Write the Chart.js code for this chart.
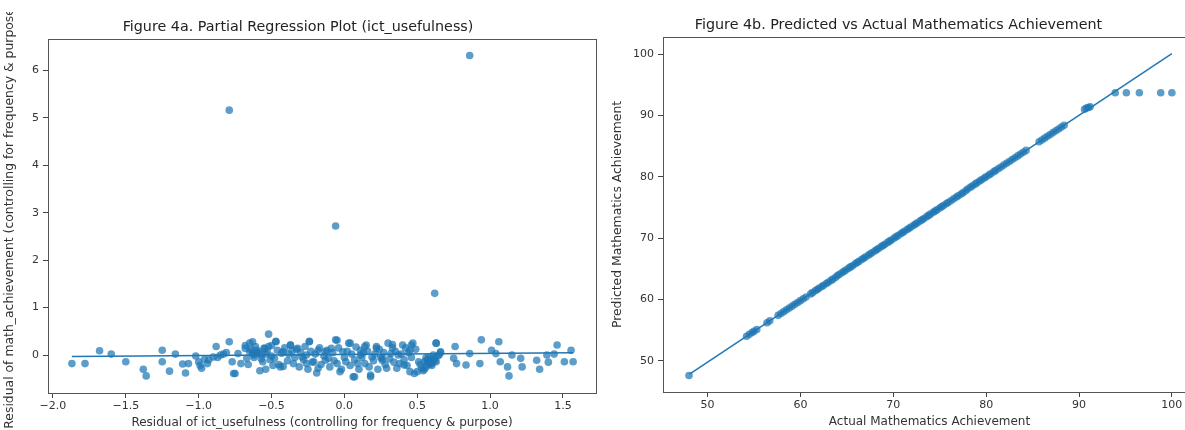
<!DOCTYPE html>
<html>
<head>
<meta charset="utf-8">
<script src="https://cdn.jsdelivr.net/npm/chart.js@4.4.1/dist/chart.umd.min.js"></script>
<style>
  html, body { margin: 0; padding: 0; background: #fff; overflow: hidden; }
  #wrap { position: relative; width: 1185px; height: 430px; overflow: hidden; background: #fff; }
  #c1 { position: absolute; left: 0; top: 12px; }
  #c2 { position: absolute; left: 600px; top: 0; }
</style>
</head>
<body>
<div id="wrap">
  <canvas id="c1" width="600" height="418"></canvas>
  <canvas id="c2" width="600" height="430"></canvas>
</div>
<script>
// ---------- Figure 4a data ----------
const residIct = [
  -1.87,-1.78,-1.68,-1.60,-1.50,-1.38,-1.36,-1.25,-1.25,-1.20,-1.16,-1.11,-1.09,-1.07,-1.02,-1.00,-0.98,-0.96,-0.94,-0.90,
  -0.88,-0.85,-0.79,-0.77,-0.75,-0.73,-0.71,-0.68,-0.67,-0.65,-0.63,-0.60,-0.58,-0.56,-0.52,-0.52,-0.48,-0.47,-0.44,-0.37,
  -0.35,-0.99,-0.93,-0.87,-0.83,-0.81,-0.76,-0.63,-0.55,-0.47,-0.42,-0.37,-0.32,-0.26,-0.24,-0.21,-0.18,-0.13,-0.11,-0.05,
  -0.03,0.01,0.04,0.07,0.11,0.14,0.18,0.22,0.26,0.29,0.33,0.37,0.41,0.45,0.46,0.50,0.53,0.55,0.61,0.63,
  0.66,-0.66,-0.64,-0.62,-0.61,-0.59,-0.57,-0.55,-0.54,-0.53,-0.51,-0.50,-0.49,-0.46,-0.45,-0.43,-0.42,-0.41,-0.39,-0.38,
  -0.36,-0.34,-0.33,-0.31,-0.30,-0.28,-0.27,-0.25,-0.23,-0.22,-0.20,-0.19,-0.17,-0.16,-0.14,-0.12,-0.10,-0.08,-0.07,-0.04,
  -0.02,0.00,0.02,0.04,0.05,0.07,0.08,0.10,0.12,0.13,0.14,0.16,0.20,0.21,0.23,0.24,0.25,0.27,0.28,0.31,
  0.33,0.34,0.35,0.36,0.39,0.41,0.42,0.43,0.44,0.46,0.49,0.52,0.55,0.57,0.58,0.60,0.62,0.64,0.66,
  -0.29,-0.24,-0.26,-0.18,-0.13,-0.09,-0.06,-0.05,-0.01,0.03,0.06,0.09,0.11,0.15,0.17,0.18,0.19,0.22,0.26,0.30,
  0.32,0.38,0.40,0.45,0.47,0.48,0.51,0.54,0.56,0.59,0.61,0.63,0.65,0.75,0.76,0.77,0.835,0.86,0.93,0.94,
  1.01,1.04,1.06,1.07,1.12,1.13,1.15,1.21,1.22,1.32,1.34,1.39,1.40,1.44,1.46,1.51,1.556,1.57,
  0.57,0.59,0.60,0.62,0.63,0.56,0.58,-0.62,-0.60,-0.57,-0.65,-0.68,-0.54,-0.50,
  -0.79,0.86,-0.06,0.62
];
const residMath = [
  -0.18,-0.18,0.09,0.02,-0.14,-0.30,-0.44,0.10,-0.14,-0.34,0.02,-0.19,-0.38,-0.18,-0.02,-0.14,-0.28,-0.09,-0.18,-0.04,
  0.18,0.00,0.28,-0.14,-0.39,0.03,-0.18,0.14,-0.07,0.25,0.03,0.10,-0.33,-0.14,0.44,0.18,-0.07,0.28,-0.25,0.21,
  -0.18,-0.22,-0.10,-0.05,0.02,0.05,-0.39,0.28,0.14,0.29,0.07,0.21,0.14,0.00,0.29,-0.14,-0.28,0.07,-0.07,0.31,
  -0.35,-0.14,0.25,-0.46,0.00,0.18,-0.46,0.14,-0.07,-0.28,0.22,0.00,-0.21,-0.35,0.21,-0.35,-0.28,-0.14,0.00,0.25,
  0.07,-0.20,0.12,-0.05,0.18,0.06,0.00,0.14,-0.30,0.08,-0.10,0.20,-0.22,0.10,-0.20,0.04,-0.24,0.15,-0.12,0.02,
  0.09,-0.05,0.12,-0.25,0.05,-0.10,0.18,-0.30,0.08,-0.15,0.02,-0.38,0.15,-0.20,-0.02,0.10,-0.25,0.05,-0.12,0.15,
  -0.30,-0.05,0.08,-0.22,0.02,-0.10,0.17,-0.30,-0.05,0.05,-0.18,0.08,-0.12,0.02,-0.30,0.12,-0.05,0.05,-0.20,-0.08,
  0.15,-0.15,0.08,-0.28,0.02,-0.10,0.15,-0.22,0.05,-0.05,0.12,-0.20,-0.30,-0.10,-0.05,-0.22,-0.12,-0.02,0.05,
  -0.04,0.28,-0.18,0.10,-0.11,0.14,0.32,-0.18,0.07,0.25,-0.46,-0.18,0.10,0.21,-0.25,-0.42,-0.04,0.18,-0.11,0.25,
  0.03,-0.18,0.21,0.10,0.25,-0.39,-0.14,-0.33,-0.25,-0.18,-0.07,0.25,0.00,-0.07,0.18,-0.18,-0.21,0.03,-0.18,0.32,
  0.10,0.03,0.28,-0.14,-0.25,-0.44,0.00,-0.07,-0.25,-0.11,-0.30,0.00,-0.15,0.02,0.21,-0.14,0.10,-0.14,
  -0.15,-0.12,-0.18,-0.08,-0.14,-0.06,-0.20,0.00,0.04,-0.08,0.08,0.20,0.02,-0.02,
  5.16,6.31,2.72,1.30
];
const fitLineIctX = [-1.87, 1.57];
const fitLineIctY = [-0.03, 0.05];
const xTicksA = [-2.0, -1.5, -1.0, -0.5, 0.0, 0.5, 1.0, 1.5];
const yTicksA = [0, 1, 2, 3, 4, 5, 6];

// ---------- Figure 4b data ----------
const actualMath = [
  48.0,54.2,54.5,54.8,55.0,55.3,56.4,56.7,57.6,57.9,58.2,58.5,58.8,59.1,59.4,59.7,60.0,60.3,60.6,61.1,
  61.3,61.6,61.8,62.0,62.3,62.5,62.8,63.0,63.3,63.5,63.8,64.0,64.2,64.5,64.7,64.9,65.2,65.4,65.6,65.9,
  66.1,66.3,66.6,66.8,67.0,67.3,67.5,67.7,68.0,68.2,68.4,68.7,68.9,69.1,69.4,69.6,69.8,70.1,70.3,70.5,
  70.8,71.0,71.2,71.5,71.7,71.9,72.2,72.4,72.6,72.9,73.1,73.3,73.6,73.8,74.0,74.3,74.5,74.7,75.0,75.2,
  75.4,75.7,75.9,76.2,76.5,76.8,77.0,77.3,77.5,77.8,78.0,78.3,78.5,78.8,79.0,79.3,79.5,79.8,80.0,80.3,
  80.5,80.8,81.0,81.3,81.6,81.9,82.2,82.5,82.8,83.1,83.4,83.7,84.0,84.3,85.7,86.0,86.3,86.6,86.9,87.2,
  87.5,87.8,88.1,88.4,90.6,90.8,91.0,91.2,93.9,95.1,96.5,98.8,100.0
];
const predictedMath = [
  47.6,54.0,54.3,54.6,54.8,55.1,56.2,56.5,57.4,57.7,58.0,58.3,58.6,58.9,59.2,59.5,59.8,60.1,60.4,60.9,
  61.1,61.4,61.6,61.8,62.1,62.3,62.6,62.8,63.1,63.3,63.6,63.9,64.1,64.4,64.6,64.8,65.1,65.3,65.5,65.8,
  66.0,66.2,66.5,66.7,66.9,67.2,67.4,67.6,67.9,68.1,68.3,68.6,68.8,69.0,69.3,69.5,69.7,70.0,70.2,70.4,
  70.7,70.9,71.1,71.4,71.6,71.8,72.1,72.3,72.5,72.8,73.0,73.2,73.5,73.7,73.9,74.2,74.4,74.6,74.9,75.1,
  75.3,75.6,75.8,76.1,76.4,76.7,76.9,77.2,77.4,77.7,78.0,78.3,78.5,78.8,79.0,79.3,79.5,79.8,80.0,80.3,
  80.5,80.8,81.0,81.3,81.6,81.9,82.2,82.5,82.8,83.1,83.4,83.7,84.0,84.3,85.7,86.0,86.3,86.6,86.9,87.2,
  87.5,87.8,88.1,88.4,91.0,91.2,91.3,91.4,93.7,93.7,93.7,93.7,93.7
];
const fitLineMathX = [48.06, 100.0];
const fitLineMathY = [47.8, 100.1];
const xTicksB = [50, 60, 70, 80, 90, 100];
const yTicksB = [50, 60, 70, 80, 90, 100];

// ---------- shared styling ----------
const FONT = "'DejaVu Sans', sans-serif";
const TEXT = '#333333';
const C0 = '#1f77b4';
const PT = 'rgba(31,119,180,0.72)';

const framePlugin = {
  id: 'frame',
  afterDatasetsDraw(chart) {
    const a = chart.chartArea, ctx = chart.ctx;
    ctx.save();
    ctx.strokeStyle = '#555555';
    ctx.lineWidth = 1;
    ctx.strokeRect(Math.round(a.left) + 0.5, Math.round(a.top) + 0.5,
      Math.round(a.right - a.left), Math.round(a.bottom - a.top));
    ctx.restore();
  }
};

function pairs(xs, ys) { return xs.map((x, i) => ({ x: x, y: ys[i] })); }
function fmtMinus(v, d) { const s = Number(v).toFixed(d); return s.replace('-', '\u2212'); }

function makeChart(id, cfg) {
  return new Chart(document.getElementById(id), {
    type: 'scatter',
    data: {
      datasets: [
        { data: pairs(cfg.fx, cfg.fy), showLine: true, borderColor: C0, borderWidth: 1.5,
          pointRadius: 0, fill: false, order: 0 },
        { data: pairs(cfg.px, cfg.py), backgroundColor: PT, borderWidth: 0,
          pointRadius: 3.8, order: 1 }
      ]
    },
    options: {
      responsive: false, animation: false, devicePixelRatio: 1,
      layout: { padding: { left: 0, right: cfg.padRight, top: 0, bottom: 0 } },
      plugins: {
        legend: { display: false }, tooltip: { enabled: false },
        title: { display: true, text: cfg.title, color: '#222', font: { family: FONT, size: 14.3, weight: 'normal', lineHeight: 1.2 },
                 padding: { top: cfg.titleTop, bottom: cfg.titleBottom } }
      },
      scales: {
        x: {
          type: 'linear', min: cfg.xmin, max: cfg.xmax,
          afterBuildTicks: s => { s.ticks = cfg.xticks.map(v => ({ value: v })); },
          afterFit: s => { s.height = cfg.xh; },
          ticks: { color: TEXT, font: { family: FONT, size: 11 }, padding: 2, maxRotation: 0, autoSkip: false,
                   callback: v => fmtMinus(v, cfg.xdec) },
          grid: { display: true, drawOnChartArea: false, drawTicks: true, tickLength: 5, color: '#444' },
          border: { display: false },
          title: { display: true, text: cfg.xtitle, color: TEXT, font: { family: FONT, size: 12, lineHeight: 1.2 }, padding: { top: 0, bottom: cfg.xtPad } }
        },
        y: {
          type: 'linear', min: cfg.ymin, max: cfg.ymax,
          afterBuildTicks: s => { s.ticks = cfg.yticks.map(v => ({ value: v })); },
          afterFit: s => { s.width = cfg.yw; },
          ticks: { color: TEXT, font: { family: FONT, size: 11 }, padding: 4, autoSkip: false,
                   callback: v => fmtMinus(v, 0) },
          grid: { display: true, drawOnChartArea: false, drawTicks: true, tickLength: 5, color: '#444' },
          border: { display: false },
          title: { display: true, text: cfg.ytitle, color: TEXT, font: { family: FONT, size: 12.4, lineHeight: 1.2 }, padding: { top: cfg.ytPad, bottom: cfg.ytPad } }
        }
      }
    },
    plugins: [framePlugin]
  });
}

makeChart('c1', {
  title: 'Figure 4a. Partial Regression Plot (ict_usefulness)',
  xtitle: 'Residual of ict_usefulness (controlling for frequency & purpose)',
  ytitle: 'Residual of math_achievement (controlling for frequency & purpose)',
  px: residIct, py: residMath, fx: fitLineIctX, fy: fitLineIctY,
  xticks: xTicksA, yticks: yTicksA, xdec: 1,
  xmin: -2.034, xmax: 1.727, ymin: -0.80, ymax: 6.66,
  yw: 48, xh: 37, padRight: 4, titleTop: 6.4, titleBottom: 3.4, xtPad: 0, ytPad: 2.6
});

makeChart('c2', {
  title: 'Figure 4b. Predicted vs Actual Mathematics Achievement',
  xtitle: 'Actual Mathematics Achievement',
  ytitle: 'Predicted Mathematics Achievement',
  px: actualMath, py: predictedMath, fx: fitLineMathX, fy: fitLineMathY,
  xticks: xTicksB, yticks: yTicksB, xdec: 0,
  xmin: 45.2, xmax: 102.6, ymin: 44.9, ymax: 102.8,
  yw: 63, xh: 38, padRight: 3, titleTop: 16.4, titleBottom: 3.4, xtPad: 1.1, ytPad: 10.6
});
</script>
</body>
</html>
